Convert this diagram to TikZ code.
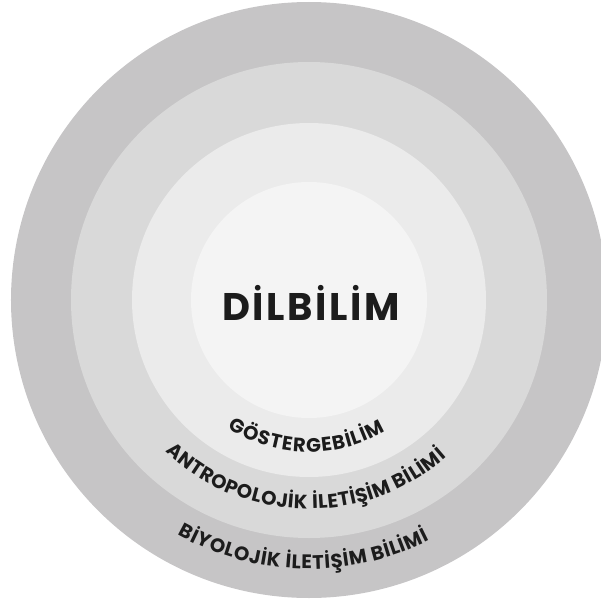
\documentclass[tikz,border=0pt]{standalone}
\usepackage{fontspec}
\usetikzlibrary{decorations.text}
\newfontfamily\ringfont{Poppins}
\newfontfamily\titlefont{Poppins}[LetterSpace=6.5]
\definecolor{ringA}{HTML}{C6C5C6}
\definecolor{ringB}{HTML}{D9D9D9}
\definecolor{ringC}{HTML}{EBEBEB}
\definecolor{ringD}{HTML}{F4F4F4}
\definecolor{ink}{HTML}{1C1C1C}
\newcommand{\arcfont}{\ringfont\bfseries\fontsize{19.5}{19.5}\selectfont}
\tikzset{
  arclabel/.style={decorate,decoration={text along path,
      text={|\arcfont|#1},text color=ink,text align=fit to path}},
  title/.style={font=\titlefont\bfseries\fontsize{38.5}{38.5}\selectfont,
      text=ink,inner sep=0pt,anchor=base}
}
\begin{document}
\begin{tikzpicture}
  [x=1pt,y=1pt]
  \useasboundingbox (-309,-306) rectangle (292,300);
  \clip (-309,-306) rectangle (292,300);

  \foreach \r/\c in {298/ringA,238/ringB,177/ringC,118/ringD}
    \fill[\c] (0,0) circle (\r pt);

  \node[title] (dil) at (2,-20) {DİLBİLİM};

  \path[arclabel={GÖSTERGEBİLİM}]
    (237.7:152pt) arc[start angle=237.7,end angle=300.3,radius=152pt];
  \path[arclabel={ANTROPOLOJİK İLETİŞİM BİLİMİ}]
    (226.5:209pt) arc[start angle=226.5,end angle=311.2,radius=209pt];
  \path[arclabel={BİYOLOJİK İLETİŞİM BİLİMİ}]
    (240.8:269pt) arc[start angle=240.8,end angle=296.7,radius=269pt];

\end{tikzpicture}
\end{document}
